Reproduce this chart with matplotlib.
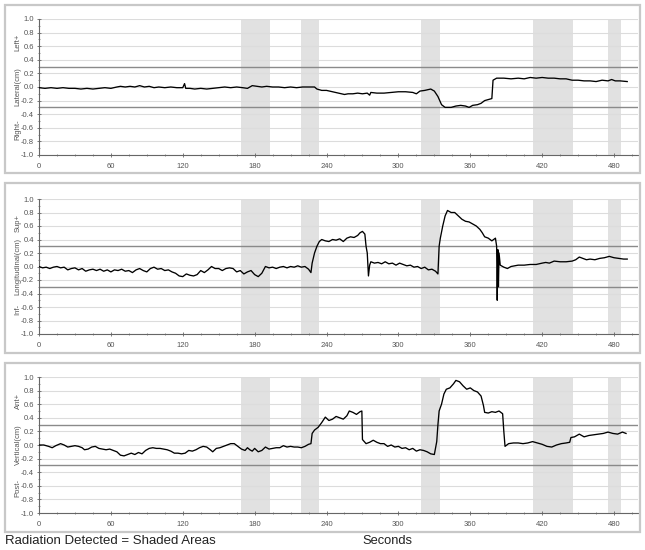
import matplotlib
matplotlib.use("Agg")
import matplotlib.pyplot as plt
from matplotlib.patches import Rectangle
from matplotlib.ticker import MultipleLocator
import matplotlib.transforms as mtransforms

plt.rcParams['font.family'] = ['Liberation Sans', 'DejaVu Sans']

# ---- data ----
shaded_regions = [(169, 193), (219, 234), (319, 335), (412, 446), (475, 486)]
x_ticks = [0, 60, 120, 180, 240, 300, 360, 420, 480]
y_ticks = [1.0, 0.8, 0.6, 0.4, 0.2, 0.0, -0.2, -0.4, -0.6, -0.8, -1.0]

lat_t = [0, 5, 10, 15, 20, 25, 30, 35, 40, 45, 50, 55, 60, 65, 68, 72, 76, 80, 84, 88, 92, 96, 100,
         105, 110, 115, 120, 121.5, 122.5, 126, 130, 135, 140, 145, 150, 155, 160, 165, 170, 174, 178,
         182, 186, 190, 195, 200, 205, 210, 215, 220, 225, 230, 232, 236, 240, 245, 250, 255, 258, 262,
         266, 270, 274, 276, 277, 282, 288, 294, 300, 306, 312, 315, 318, 322, 327, 330, 333, 336, 339,
         344, 348, 352, 356, 359, 362, 366, 369, 372, 376, 378, 379, 382, 388, 394, 400, 405, 410, 415,
         420, 425, 430, 435, 440, 445, 450, 455, 460, 465, 470, 475, 478, 481, 485, 491]
lat_v = [-0.01, -0.02, -0.01, -0.02, -0.01, -0.02, -0.02, -0.03, -0.02, -0.03, -0.02, -0.01, -0.02,
         0.0, 0.01, 0.0, 0.01, 0.0, 0.02, 0.0, 0.01, -0.01, 0.0, -0.01, 0.0, -0.01, -0.01, 0.05, -0.02,
         -0.02, -0.03, -0.02, -0.03, -0.02, -0.01, 0.0, -0.01, 0.0, -0.01, -0.02, 0.02, 0.01, 0.0, 0.01,
         0.0, 0.0, -0.01, 0.0, -0.01, 0.0, 0.0, 0.0, -0.03, -0.05, -0.05, -0.07, -0.09, -0.11, -0.1,
         -0.1, -0.09, -0.1, -0.09, -0.12, -0.08, -0.09, -0.09, -0.08, -0.07, -0.07, -0.08, -0.1, -0.06,
         -0.05, -0.03, -0.06, -0.14, -0.26, -0.3, -0.3, -0.28, -0.27, -0.28, -0.3, -0.27, -0.26, -0.24,
         -0.2, -0.18, -0.17, 0.1, 0.13, 0.13, 0.12, 0.13, 0.12, 0.14, 0.13, 0.14, 0.13, 0.13, 0.12,
         0.12, 0.1, 0.1, 0.09, 0.09, 0.08, 0.1, 0.09, 0.11, 0.09, 0.09, 0.08]

lon_t = [0, 3, 6, 9, 12, 15, 18, 21, 24, 27, 30, 33, 36, 39, 42, 45, 48, 51, 54, 57, 60, 63, 66, 69,
         72, 75, 78, 81, 84, 87, 90, 93, 96, 99, 102, 105, 108, 111, 114, 117, 120, 123, 126, 129, 132,
         135, 138, 141, 144, 147, 150, 153, 156, 159, 162, 165, 168, 171, 174, 177, 180, 183, 186, 189,
         192, 195, 198, 201, 204, 207, 210, 213, 216, 219, 222, 225, 227, 228, 230, 232, 234, 236, 239,
         242, 245, 248, 251, 254, 257, 260, 263, 266, 268, 270, 272, 273, 274, 275, 276, 277, 280, 283,
         286, 289, 292, 295, 298, 301, 304, 307, 310, 313, 316, 319, 322, 325, 328, 331, 333, 334, 335,
         337, 339, 341, 344, 347, 350, 353, 356, 359, 362, 365, 368, 370, 372, 375, 378, 381, 382,
         382.5, 383, 383.5, 384, 385, 388, 391, 394, 397, 400, 405, 410, 415, 420, 423, 426, 430, 435,
         440, 445, 448, 451, 454, 457, 460, 464, 468, 472, 476, 480, 484, 488, 491]
lon_v = [0.0, -0.02, -0.01, -0.03, -0.01, 0.0, -0.02, -0.01, -0.05, -0.03, -0.02, -0.05, -0.03, -0.07,
         -0.05, -0.04, -0.06, -0.04, -0.07, -0.05, -0.08, -0.05, -0.06, -0.04, -0.07, -0.06, -0.09,
         -0.05, -0.03, -0.06, -0.08, -0.03, -0.01, -0.04, -0.03, -0.06, -0.05, -0.08, -0.1, -0.14,
         -0.15, -0.11, -0.13, -0.14, -0.12, -0.06, -0.09, -0.05, 0.0, -0.03, -0.03, -0.06, -0.03,
         -0.02, -0.03, -0.08, -0.06, -0.11, -0.08, -0.06, -0.12, -0.15, -0.1, 0.0, -0.02, -0.01,
         -0.03, -0.01, 0.0, -0.02, 0.0, -0.01, 0.01, -0.01, 0.0, -0.04, -0.09, 0.05, 0.2, 0.3, 0.37,
         0.4, 0.38, 0.37, 0.4, 0.39, 0.41, 0.37, 0.42, 0.44, 0.43, 0.46, 0.5, 0.52, 0.48, 0.3, 0.2,
         -0.14, 0.02, 0.07, 0.05, 0.06, 0.04, 0.07, 0.04, 0.05, 0.02, 0.05, 0.03, 0.01, 0.02, -0.01,
         0.0, -0.03, -0.01, -0.05, -0.04, -0.07, -0.11, 0.3, 0.42, 0.6, 0.75, 0.83, 0.8, 0.8, 0.75,
         0.7, 0.67, 0.66, 0.63, 0.6, 0.55, 0.5, 0.44, 0.42, 0.38, 0.42, 0.3, -0.5, 0.25, -0.3, 0.2,
         0.02, -0.01, -0.03, 0.0, 0.01, 0.02, 0.02, 0.03, 0.03, 0.05, 0.06, 0.05, 0.08, 0.07, 0.07,
         0.08, 0.1, 0.14, 0.12, 0.1, 0.11, 0.1, 0.12, 0.13, 0.15, 0.13, 0.12, 0.11, 0.11]

ver_t = [0, 4, 8, 11, 14, 18, 21, 24, 27, 30, 33, 36, 38, 41, 44, 47, 50, 53, 56, 59, 62, 65, 68, 71,
         74, 77, 80, 83, 86, 89, 92, 95, 98, 101, 104, 107, 110, 113, 116, 119, 122, 125, 128, 131, 134,
         137, 140, 143, 145, 148, 151, 154, 157, 160, 163, 166, 169, 172, 174, 176, 178, 180, 183, 186,
         189, 192, 195, 198, 201, 204, 207, 210, 213, 216, 219, 222, 225, 227, 228, 230, 233, 236, 239,
         242, 245, 248, 251, 254, 257, 259, 262, 265, 268, 269.5, 270, 273, 276, 279, 282, 285, 288,
         291, 294, 297, 300, 303, 306, 309, 312, 315, 318, 321, 324, 327, 330, 332, 333, 334, 336, 338,
         340, 343, 346, 348, 351, 354, 357, 360, 363, 366, 369, 371, 372, 375, 378, 381, 384, 387, 388,
         389, 392, 396, 400, 404, 408, 412, 416, 420, 424, 428, 432, 436, 440, 443, 444, 447, 451, 455,
         459, 463, 467, 471, 475, 479, 483, 487, 490]
ver_v = [0.0, 0.0, -0.02, -0.04, -0.01, 0.02, 0.0, -0.03, -0.02, -0.01, -0.02, -0.04, -0.07, -0.06,
         -0.03, -0.02, -0.05, -0.06, -0.07, -0.06, -0.08, -0.1, -0.15, -0.16, -0.14, -0.12, -0.14,
         -0.11, -0.13, -0.08, -0.05, -0.04, -0.05, -0.05, -0.06, -0.07, -0.09, -0.12, -0.12, -0.13,
         -0.12, -0.08, -0.09, -0.07, -0.04, -0.02, -0.03, -0.07, -0.1, -0.05, -0.04, -0.02, 0.0, 0.02,
         0.02, -0.02, -0.06, -0.08, -0.04, -0.07, -0.09, -0.05, -0.1, -0.08, -0.03, -0.06, -0.05,
         -0.04, -0.04, -0.01, -0.03, -0.02, -0.03, -0.03, -0.04, -0.02, 0.01, 0.02, 0.17, 0.22, 0.26,
         0.33, 0.41, 0.36, 0.38, 0.42, 0.4, 0.38, 0.43, 0.5, 0.48, 0.45, 0.49, 0.5, 0.08, 0.02, 0.04,
         0.07, 0.04, 0.02, 0.02, -0.02, 0.0, -0.03, -0.02, -0.05, -0.04, -0.07, -0.05, -0.09, -0.07,
         -0.08, -0.1, -0.13, -0.14, 0.05, 0.3, 0.5, 0.6, 0.75, 0.82, 0.84, 0.9, 0.95, 0.93, 0.87,
         0.82, 0.84, 0.8, 0.78, 0.72, 0.58, 0.48, 0.47, 0.49, 0.48, 0.5, 0.46, 0.2, -0.02, 0.02,
         0.03, 0.03, 0.02, 0.03, 0.05, 0.03, 0.01, -0.02, -0.03, 0.0, 0.02, 0.03, 0.04, 0.11, 0.12,
         0.16, 0.12, 0.14, 0.15, 0.16, 0.17, 0.19, 0.17, 0.16, 0.19, 0.17]

panels = [
    (lat_t, lat_v, "Left+", "Lateral(cm)", "Right-"),
    (lon_t, lon_v, "Sup+", "Longitudinal(cm)", "Inf-"),
    (ver_t, ver_v, "Ant+", "Vertical(cm)", "Post-"),
]

# ---- layout (pixels) ----
W, H = 645, 550
fig = plt.figure(figsize=(W / 100, H / 100), dpi=100)
axes_px = [(19, 155), (199, 334), (377, 513)]
borders_px = [(5, 173), (183, 353), (363, 532)]
left_px, right_px = 39, 638

for (top, bot) in borders_px:
    fig.patches.append(Rectangle((5 / W, 1 - bot / H), (640 - 5) / W, (bot - top) / H,
                                 transform=fig.transFigure, fill=False,
                                 edgecolor='#c8c8c8', linewidth=1.6, zorder=0))

tick_color = '#555555'
for (t, v, top_lbl, mid_lbl, bot_lbl), (top, bot) in zip(panels, axes_px):
    ax = fig.add_axes([left_px / W, 1 - bot / H, (right_px - left_px) / W, (bot - top) / H])
    ax.set_xlim(0, 500)
    ax.set_ylim(-1.0, 1.0)
    for a, b in shaded_regions:
        ax.axvspan(a, b, color='#e1e1e1', lw=0, zorder=0)
    for y in y_ticks:
        ax.axhline(y, color='#dcdcdc', lw=0.8, zorder=1)
    for y in (0.3, -0.3):
        ax.axhline(y, color='#8a8a8a', lw=1.0, zorder=2)
    ax.plot(t, v, color='black', lw=0.95, zorder=3)
    ax.set_xticks(x_ticks)
    ax.set_yticks(y_ticks)
    ax.set_yticklabels([f"{y:.1f}" for y in y_ticks])
    ax.xaxis.set_minor_locator(MultipleLocator(15))
    ax.yaxis.set_minor_locator(MultipleLocator(0.1))
    ax.tick_params(axis='both', which='major', labelsize=5.5, labelcolor=tick_color,
                   color='#666666', length=3, width=0.6, direction='inout', pad=2)
    ax.tick_params(axis='x', which='major', pad=4)
    ax.tick_params(axis='both', which='minor', color='#666666', length=2, width=0.5,
                   direction='inout')
    for s in ('top', 'right'):
        ax.spines[s].set_visible(False)
    for s in ('left', 'bottom'):
        ax.spines[s].set_color('#666666')
        ax.spines[s].set_linewidth(0.8)
    ax.patch.set_alpha(0)
    trans = mtransforms.blended_transform_factory(ax.transAxes, ax.transData)
    xlab = (18 - left_px) / (right_px - left_px)
    ax.text(xlab, 0.65, top_lbl, transform=trans, rotation=90, ha='center', va='center',
            fontsize=5.5, color=tick_color)
    ax.text(xlab, 0.0, mid_lbl, transform=trans, rotation=90, ha='center', va='center',
            fontsize=5.5, color=tick_color)
    ax.text(xlab, -0.63, bot_lbl, transform=trans, rotation=90, ha='center', va='center',
            fontsize=5.5, color=tick_color)

fig.text(5 / W, 1 - 541 / H, "Radiation Detected = Shaded Areas", fontsize=9.5,
         ha='left', va='center', color='#222222')
fig.text(387 / W, 1 - 541 / H, "Seconds", fontsize=9.3, ha='center', va='center',
         color='#222222')

fig.savefig("out.png", dpi=100)
